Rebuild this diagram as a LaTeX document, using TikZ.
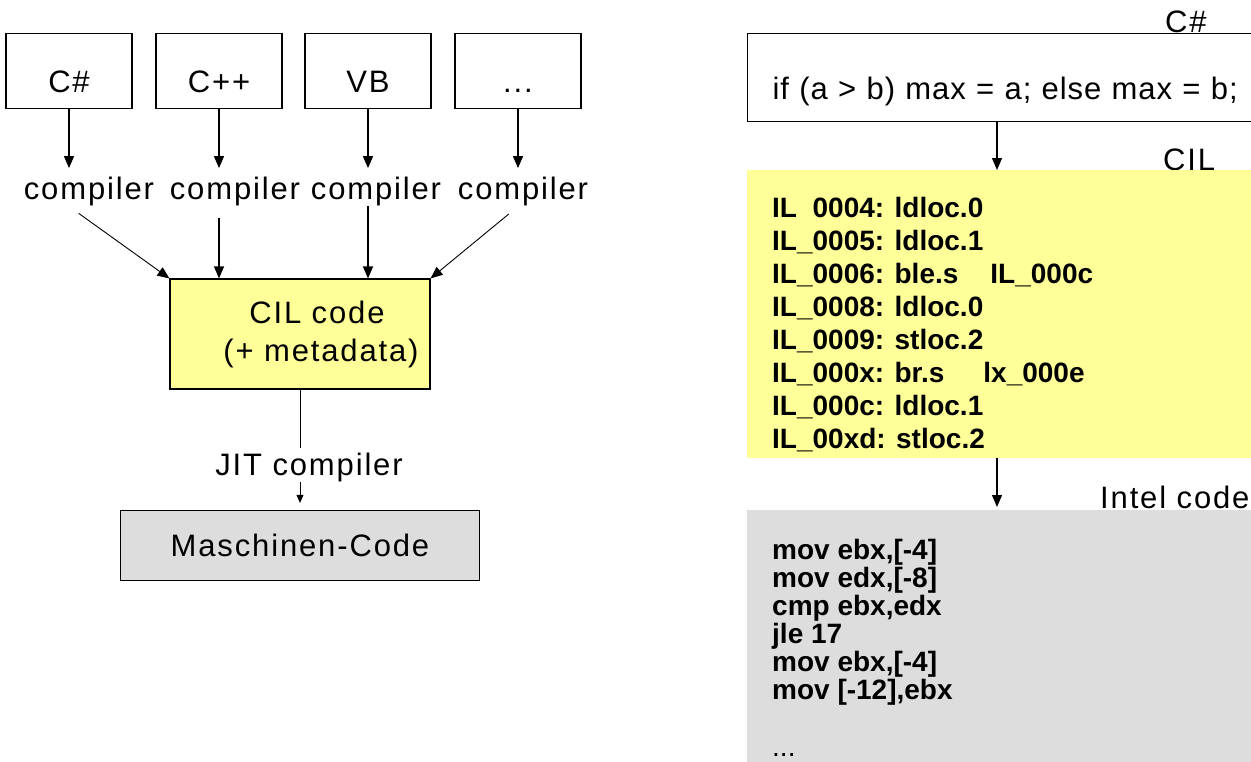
\documentclass[tikz,border=0pt]{standalone}
\usepackage{fontspec}
\setmainfont{Liberation Sans}
\newfontfamily\wideface[LetterSpace=6]{Liberation Sans}
\newfontfamily\srcface[LetterSpace=3]{Liberation Sans}
\usepackage{xcolor}
\usetikzlibrary{arrows.meta, positioning, calc}
\definecolor{cilyellow}{HTML}{FFFF99}
\definecolor{mcgray}{HTML}{DDDDDD}

\begin{document}
\begin{tikzpicture}[
    x=1pt, y=-1pt,
    lang/.style={rectangle, draw=black, line width=1.2pt, minimum width=126pt, minimum height=75pt, inner sep=0pt, text height=43pt, text depth=0pt, font=\wideface\fontsize{31}{37}\selectfont},
    lbl/.style={inner sep=0pt, font=\wideface\fontsize{31}{37}\selectfont},
    cilbox/.style={rectangle, draw=black, line width=1.2pt, fill=cilyellow, minimum width=260pt, minimum height=110pt, text width=250pt, align=center, font=\wideface\fontsize{31}{38}\selectfont},
    mcbox/.style={rectangle, draw=black, line width=1.2pt, fill=mcgray, minimum width=359pt, minimum height=70pt, font=\wideface\fontsize{31}{37}\selectfont},
    src/.style={rectangle, draw=black, line width=1.2pt, anchor=north west, minimum width=540pt, minimum height=88pt, inner xsep=25pt, inner ysep=0pt, text width=490pt, align=left, text height=44pt, text depth=0pt, font=\srcface\fontsize{31}{37}\selectfont},
    panel/.style={rectangle, inner sep=0pt, anchor=north west, minimum width=540pt},
    listing/.style={anchor=north west, inner sep=0pt, align=left, font=\fontsize{28}{33}\selectfont\bfseries},
    arrow/.style={line width=1.2pt, -{Triangle[length=12pt, width=10pt]}},
    slim/.style={line width=0.9pt, -{Triangle[length=12pt, width=10pt]}},
    tiny/.style={line width=0.9pt, -{Triangle[length=8pt, width=7pt]}}
]
\useasboundingbox (0,0) rectangle (1251,761);
\clip (0,0) rectangle (1251,761);

% Source languages
\node[lang] (cs) at (69,71) {C\#};
\node[lang] (cpp) at (219,71) {C++};
\node[lang] (vb) at (368,71) {VB};
\node[lang] (more) at (518,71) {...};

% Compilers
\node[lbl, below=68pt of cs, xshift=20pt] (ccs) {compiler};
\node[lbl, below=68pt of cpp, xshift=16pt] (ccpp) {compiler};
\node[lbl, below=68pt of vb, xshift=8pt] (cvb) {compiler};
\node[lbl, below=68pt of more, xshift=5pt] (cmore) {compiler};

% Intermediate code
\node[cilbox] (cil) at (300,334) {\hspace*{34pt}CIL code\\\hspace*{42pt}(+ metadata)};

% JIT
\node[lbl, below=63pt of cil, xshift=9pt] (jit) {JIT compiler};
\node[mcbox, below=28pt of jit, xshift=-9pt] (mc) {Maschinen-Code};

% Example: C# source
\node[lbl, anchor=base west] (srclang) at (1165,32) {C\#};
\node[src] (srcline) at (747,33) {if (a > b) max = a; else max = b;};
\coordinate (flow) at (997,0);

% Example: CIL
\node[lbl, anchor=base west] (cillang) at (1163,170) {CIL};
\node[panel, fill=cilyellow, minimum height=288pt] (il) at (747,170) {};
\node[listing] (ilcode) at ($(il.north west)+(25,27)$) {IL\phantom{\_}0004: ldloc.0\\
IL\_0005: ldloc.1\\
IL\_0006: ble.s\hspace{32pt}IL\_000c\\
IL\_0008: ldloc.0\\
IL\_0009: stloc.2\\
IL\_000x: br.s\hspace{39pt}lx\_000e\\
IL\_000c: ldloc.1\\
IL\_00xd: stloc.2};

% Example: Intel code
\node[lbl, anchor=base west] (intellang) at (1100,508) {Intel code};
\node[panel, fill=mcgray, minimum height=260pt] (asm) at (747,510) {};
\node[listing, font=\fontsize{28}{28}\selectfont\bfseries] (asmcode) at ($(asm.north west)+(25,29)$) {mov ebx,[-4]\\
mov edx,[-8]\\
cmp ebx,edx\\
jle 17\\
mov ebx,[-4]\\
mov [-12],ebx\\[29pt]
{\mdseries ...}};

% Arrows
\draw[arrow, shorten >=9pt] (cs) -- (cs |- ccs.north);
\draw[arrow, shorten >=9pt] (cpp) -- (cpp |- ccpp.north);
\draw[arrow, shorten >=9pt] (vb) -- (vb |- cvb.north);
\draw[arrow, shorten >=9pt] (more) -- (more |- cmore.north);

\draw[slim, shorten <=12pt] (ccs.south -| cs) -- (cil.north west);
\draw[arrow, shorten <=12pt] (ccpp.south -| cpp) -- (cpp |- cil.north);
\draw[arrow] (cvb.south -| vb) -- (vb |- cil.north);
\draw[slim, shorten <=12pt] (cmore.south -| more) -- (cil.north east);

\draw[line width=1pt, shorten >=5pt] (cil) -- (cil |- jit.north);
\draw[tiny, shorten >=7pt] (jit.south -| cil) -- (mc);

\draw[arrow] (srcline.south -| flow) -- (il.north -| flow);
\draw[arrow, shorten >=3pt] (il.south -| flow) -- (asm.north -| flow);

\end{tikzpicture}
\end{document}
